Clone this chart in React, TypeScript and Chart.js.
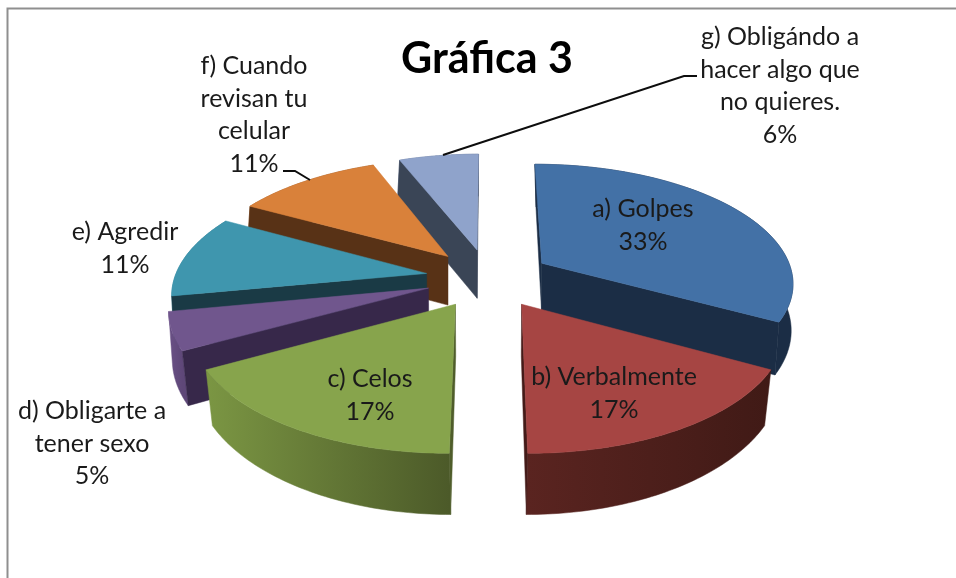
import React, { useEffect, useRef } from "react";
import { Chart, registerables } from "chart.js";

Chart.register(...registerables);

const categories = ["a) Golpes", "b) Verbalmente", "c) Celos", "d) Obligarte a tener sexo", "e) Agredir", "f) Cuando revisan tu celular", "g) Obligándo a hacer algo que no quieres."];
const values = [33, 17, 17, 5, 11, 11, 6];
const labelLines = [["a) Golpes"], ["b) Verbalmente"], ["c) Celos"], ["d) Obligarte a", "tener sexo"], ["e) Agredir"], ["f) Cuando", "revisan tu", "celular"], ["g) Obligándo a", "hacer algo que", "no quieres."]];
const titleText = "Gráfica 3";

const topColors = ["#4371a6", "#a64543", "#87a44c", "#70568d", "#3f96ae", "#d9813a", "#8fa3cb"];
const wallColors = ["#1b2d45", "#441b18", "#4f5d2b", "#37284a", "#1a3a45", "#583216", "#3a4556"];
const outerStart = ["#1b2d45", "#5a2420", "#7b9643", "#6a5186", "#3a8ba0", "#a5622c", "#6c7b9b"];
const outerEnd = ["#1b2d45", "#401a16", "#4c5a29", "#5e4778", "#2f7487", "#8a5124", "#5c6a87"];
const labelAnchors = [[643, 217], [614, 385], [370, 387], [92, 419], [125, 240], [254, 74], [780, 45]];
const drawOrder = [6, 5, 4, 3, 0, 2, 1];
const leaders = [[[443, 155], [684, 76], [697, 76]], [[283, 171], [295, 171], [310, 180]]];

const CX = 488.5, CY = 278, GX = 252, GY = 118, PERSP = 0.15, DEPTH = 50, EXPLODE = 0.25;
const FONT = "Lato, Carlito, sans-serif";

const proj = (X: number, Y: number, low: boolean) => {
  const den = 1 - PERSP * Y;
  const f = low ? 0.995 - 0.025 * Y : 1;
  return [CX + (GX * X * f) / den, CY + (GY * Y) / den + (low ? DEPTH / den : 0)];
};

const polygon = (ctx: CanvasRenderingContext2D, pts: number[][], fill: string | CanvasGradient) => {
  ctx.beginPath();
  pts.forEach((p, i) => (i ? ctx.lineTo(p[0], p[1]) : ctx.moveTo(p[0], p[1])));
  ctx.closePath();
  ctx.fillStyle = fill;
  ctx.strokeStyle = fill;
  ctx.lineWidth = 0.5;
  ctx.fill();
  ctx.stroke();
};

const side = (a: number[], e: number[], p: number[]) => (e[0] - a[0]) * (p[1] - a[1]) - (e[1] - a[1]) * (p[0] - a[0]);

const pie3d = {
  id: "pie3d",
  beforeDraw(chart: any) {
    const { ctx } = chart;
    ctx.save();
    ctx.fillStyle = "#ffffff";
    ctx.fillRect(0, 0, 956, 578);
    ctx.strokeStyle = "#8f8f8f";
    ctx.lineWidth = 2;
    ctx.beginPath();
    ctx.moveTo(7.5, 578);
    ctx.lineTo(7.5, 8.5);
    ctx.lineTo(956, 8.5);
    ctx.stroke();
    ctx.restore();
  },
  beforeDatasetsDraw(chart: any) {
    const { ctx } = chart;
    const arcs = chart.getDatasetMeta(0).data;
    ctx.save();
    for (const i of drawOrder) {
      const { startAngle, endAngle } = arcs[i];
      const mid = (startAngle + endAngle) / 2;
      const ox = EXPLODE * Math.cos(mid), oy = EXPLODE * Math.sin(mid);
      const steps = 60;
      const rim: number[][] = [];
      for (let s = 0; s <= steps; s++) {
        const t = startAngle + ((endAngle - startAngle) * s) / steps;
        rim.push([ox + Math.cos(t), oy + Math.sin(t)]);
      }
      const up = rim.map((p) => proj(p[0], p[1], false));
      const low = rim.map((p) => proj(p[0], p[1], true));
      const apexUp = proj(ox, oy, false), apexLow = proj(ox, oy, true);
      const xs = up.map((p) => p[0]);
      const g = ctx.createLinearGradient(Math.min(...xs), 0, Math.max(...xs), 0);
      g.addColorStop(0, outerStart[i]);
      g.addColorStop(1, outerEnd[i]);
      polygon(ctx, [...up, ...low.slice().reverse()], g);
      const midRim = up[steps / 2];
      for (const k of [0, steps]) {
        if (side(apexUp, up[k], midRim) * side(apexUp, up[k], apexLow) < 0) {
          polygon(ctx, [apexUp, up[k], low[k], apexLow], wallColors[i]);
        }
      }
      polygon(ctx, [apexUp, ...up], topColors[i]);
    }
    ctx.restore();
    return false;
  },
  afterDraw(chart: any) {
    const { ctx } = chart;
    ctx.save();
    ctx.strokeStyle = "#0d0d0d";
    ctx.lineWidth = 2;
    for (const l of leaders) {
      ctx.beginPath();
      l.forEach((p, i) => (i ? ctx.lineTo(p[0], p[1]) : ctx.moveTo(p[0], p[1])));
      ctx.stroke();
    }
    ctx.fillStyle = "#1a1a1a";
    ctx.font = `25px ${FONT}`;
    ctx.textAlign = "center";
    ctx.textBaseline = "alphabetic";
    labelLines.forEach((lines, i) => {
      const [x, y] = labelAnchors[i];
      [...lines, `${values[i]}%`].forEach((t, k) => ctx.fillText(t, x, y + k * 32.7));
    });
    ctx.restore();
  },
};

export default function App() {
  const ref = useRef<HTMLCanvasElement>(null);
  useEffect(() => {
    const chart = new Chart(ref.current as HTMLCanvasElement, {
      type: "pie",
      data: { labels: categories, datasets: [{ data: values, backgroundColor: topColors, borderWidth: 0 }] },
      options: {
        animation: false,
        responsive: false,
        layout: { padding: { left: 18 } },
        plugins: {
          legend: { display: false },
          tooltip: { enabled: false },
          title: { display: true, text: titleText, fullSize: false, color: "#000000", font: { family: FONT, size: 43, weight: "bold" }, padding: { top: 33, bottom: 0 } },
        },
      },
      plugins: [pie3d],
    } as any);
    return () => chart.destroy();
  }, []);
  return (
    <div style={{ position: "fixed", left: 0, top: 0, width: 956, height: 578 }}>
      <canvas ref={ref} width={956} height={578} style={{ display: "block" }} />
    </div>
  );
}
